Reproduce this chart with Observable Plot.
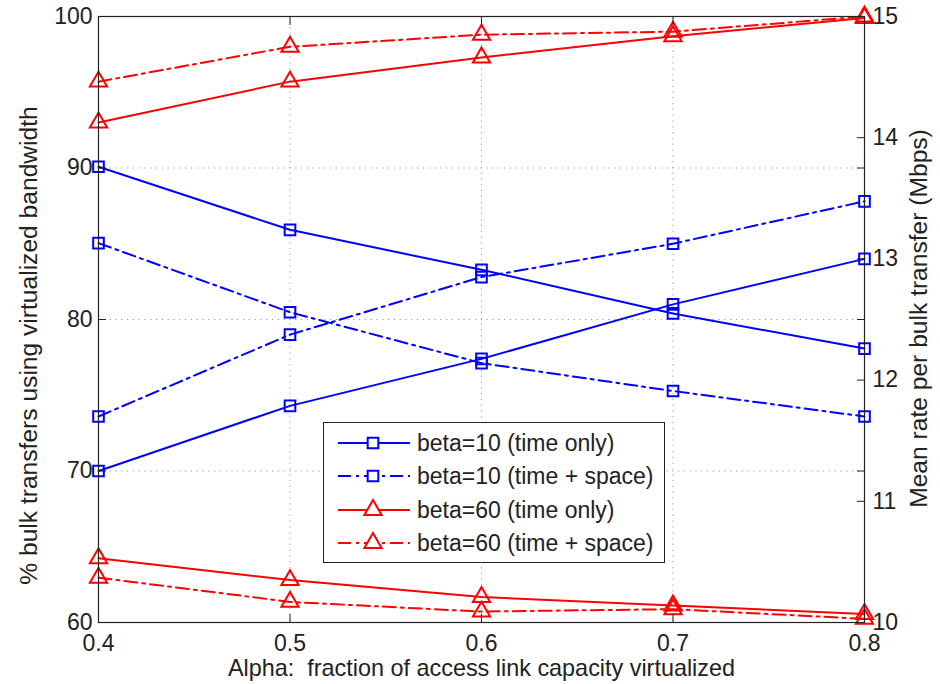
<!DOCTYPE html>
<html>
<head>
<meta charset="utf-8">
<script src="https://cdn.jsdelivr.net/npm/d3@7"></script>
<script src="https://cdn.jsdelivr.net/npm/@observablehq/plot@0.6"></script>
<style>
  body { margin: 0; background: #fff; font-family: "Liberation Sans", Arial, sans-serif; }
  #wrap { position: relative; width: 940px; height: 684px; }
  #legend { position: absolute; left: 323px; top: 422px; width: 342px; height: 141px;
            border: 1.3px solid #222; background: #fff; box-sizing: border-box; }
  .lrow { position: absolute; left: 0; height: 34px; width: 340px; }
  .lrow svg { position: absolute; left: 0; top: 0; }
  .lrow span { position: absolute; left: 93px; top: 0; line-height: 34px; font-size: 23px; color: #222; white-space: nowrap; }
</style>
</head>
<body>
<div id="wrap"><div id="chart"></div><div id="legend"></div></div>
<script>
// ---- data ----
const alpha = [0.4, 0.5, 0.6, 0.7, 0.8];
const xTicks = [0.4, 0.5, 0.6, 0.7, 0.8];
const leftTicks = [60, 70, 80, 90, 100];
const rightTicks = [10, 11, 12, 13, 14, 15];

const seriesNames = ["beta=10 (time only)", "beta=10 (time + space)", "beta=60 (time only)", "beta=60 (time + space)"];
const seriesColors = ["#0000ff", "#0000ff", "#ff0000", "#ff0000"];
const seriesDashed = [false, true, false, true];
const seriesSymbols = ["square", "square", "triangle", "triangle"];

// left axis: % bulk transfers using virtualized bandwidth
const pctBeta10Time      = [70.0, 74.3, 77.4, 81.0, 84.0];
const pctBeta10TimeSpace = [73.6, 79.0, 82.8, 85.0, 87.8];
const pctBeta60Time      = [93.0, 95.7, 97.3, 98.7, 99.9];
const pctBeta60TimeSpace = [95.7, 98.0, 98.8, 99.0, 100.0];
// right axis: mean rate per bulk transfer (Mbps)
const rateBeta10Time      = [13.76, 13.24, 12.91, 12.55, 12.26];
const rateBeta10TimeSpace = [13.13, 12.56, 12.14, 11.91, 11.70];
const rateBeta60Time      = [10.53, 10.35, 10.21, 10.14, 10.07];
const rateBeta60TimeSpace = [10.37, 10.17, 10.09, 10.11, 10.03];

const pctSeries = [pctBeta10Time, pctBeta10TimeSpace, pctBeta60Time, pctBeta60TimeSpace];
const rateSeries = [rateBeta10Time, rateBeta10TimeSpace, rateBeta60Time, rateBeta60TimeSpace];

// right axis (10..15) mapped onto the left axis (60..100)
const toLeft = d3.scaleLinear().domain([10, 15]).range([60, 100]);

const font = "'Liberation Sans', Arial, sans-serif";
const ink = "#222";
const dashDot = "13,5,3,5";

const marks = [
  Plot.gridX(xTicks, {stroke: "#9a9a9a", strokeOpacity: 1, strokeDasharray: "1.2,4.6"}),
  Plot.gridY(leftTicks, {stroke: "#9a9a9a", strokeOpacity: 1, strokeDasharray: "1.2,4.6"}),
];

seriesNames.forEach((name, i) => {
  const rows = [];
  alpha.forEach((a, j) => rows.push({alpha: a, y: pctSeries[i][j], part: "pct"}));
  alpha.forEach((a, j) => rows.push({alpha: a, y: toLeft(rateSeries[i][j]), part: "rate"}));
  const base = {x: "alpha", y: "y", z: "part", stroke: seriesColors[i], strokeWidth: 2};
  marks.push(Plot.line(rows, {...base, strokeDasharray: seriesDashed[i] ? dashDot : null}));
  marks.push(Plot.dot(rows, {x: "alpha", y: "y", symbol: seriesSymbols[i],
    r: seriesSymbols[i] === "square" ? 6 : 6.4, stroke: seriesColors[i], strokeWidth: 2, fill: "none"}));
});

marks.push(
  Plot.frame({stroke: ink, strokeWidth: 1.2}),
  Plot.axisX({ticks: xTicks, tickSize: -8, tickPadding: 20, tickFormat: d3.format(".1f"), label: null, stroke: ink, fill: ink}),
  Plot.axisX({anchor: "top", ticks: xTicks, tickSize: -8, tickFormat: () => "", label: null, stroke: ink}),
  Plot.axisY({ticks: leftTicks, tickSize: -8, tickPadding: 14, tickFormat: d3.format("d"), label: null, stroke: ink, fill: ink}),
  Plot.axisY({anchor: "right", ticks: leftTicks, tickSize: -8, tickFormat: () => "", label: null, stroke: ink}),
  Plot.axisY({anchor: "right", ticks: rightTicks.map(toLeft), tickSize: -8, tickPadding: 16,
    tickFormat: v => String(Math.round(toLeft.invert(v))), label: null, stroke: ink, fill: ink}),
  Plot.text(["% bulk transfers using virtualized bandwidth"], {text: d => d, frameAnchor: "left", textAnchor: "middle", lineAnchor: "middle", rotate: -90, dx: -69, dy: 26, fill: ink, fontSize: 24.6}),
  Plot.text(["Mean rate per bulk transfer (Mbps)"], {text: d => d, frameAnchor: "right", textAnchor: "middle", lineAnchor: "middle", rotate: -90, dx: 55, dy: -1, fill: ink, fontSize: 24.6}),
  Plot.text(["Alpha:  fraction of access link capacity virtualized"], {text: d => d, frameAnchor: "bottom", textAnchor: "middle", lineAnchor: "middle", dy: 46, fill: ink, fontSize: 23.4})
);

const chart = Plot.plot({
  width: 940, height: 684,
  marginLeft: 98, marginRight: 76, marginTop: 16, marginBottom: 62,
  style: {fontFamily: font, fontSize: "23px", background: "#fff", color: ink},
  x: {domain: [0.4, 0.8]},
  y: {domain: [60, 100]},
  marks
});
document.getElementById("chart").appendChild(chart);

// ---- legend ----
const legend = d3.select("#legend");
seriesNames.forEach((name, i) => {
  const row = legend.append("div").attr("class", "lrow").style("top", (3 + i * 33.4) + "px");
  const svg = row.append("svg").attr("width", 92).attr("height", 34);
  svg.append("line").attr("x1", 14).attr("x2", 86).attr("y1", 17).attr("y2", 17)
    .attr("stroke", seriesColors[i]).attr("stroke-width", 2)
    .attr("stroke-dasharray", seriesDashed[i] ? dashDot : null);
  const sym = seriesSymbols[i] === "square" ? d3.symbolSquare : d3.symbolTriangle;
  const r = seriesSymbols[i] === "square" ? 6 : 6.4;
  svg.append("path").attr("transform", "translate(49,17)")
    .attr("d", d3.symbol(sym, r * r * Math.PI)())
    .attr("fill", "#fff").attr("stroke", seriesColors[i]).attr("stroke-width", 2);
  row.append("span").text(name);
});
</script>
</body>
</html>
